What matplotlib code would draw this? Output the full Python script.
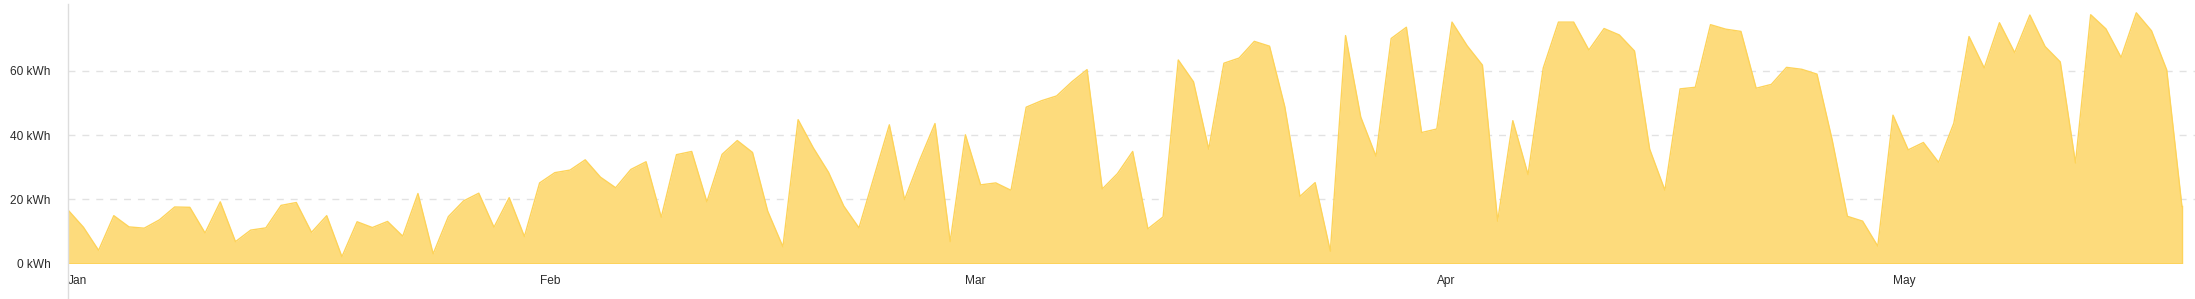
import matplotlib
matplotlib.use("Agg")
import matplotlib.pyplot as plt
import matplotlib.dates as mdates
from matplotlib.lines import Line2D
import pandas as pd
import numpy as np

start_date = "2023-01-01"
energy_kwh = [
    16.6, 11.3, 4.1, 14.9, 11.4, 11.0, 13.6, 17.6, 17.5, 9.5,
    19.2, 6.8, 10.4, 11.1, 18.1, 19.0, 9.7, 14.9, 2.1, 13.0,
    11.2, 13.1, 8.5, 21.8, 3.0, 14.6, 19.5, 21.9, 11.3, 20.5,
    8.4, 25.1, 28.3, 29.1, 32.3, 26.9, 23.6, 29.3, 31.7, 14.4,
    33.9, 34.9, 19.2, 34.0, 38.3, 34.6, 16.3, 5.2, 44.8, 36.0,
    28.4, 17.9, 11.1, 27.2, 43.2, 19.9, 32.3, 43.6, 6.8, 40.1,
    24.5, 25.1, 22.8, 48.7, 50.7, 52.2, 56.6, 60.4, 23.2, 28.0,
    34.9, 10.8, 14.5, 63.4, 56.6, 35.6, 62.4, 64.0, 69.2, 67.7,
    48.9, 20.9, 25.2, 3.8, 71.0, 45.6, 33.4, 70.1, 73.6, 40.8,
    41.9, 75.2, 67.8, 61.8, 13.2, 44.5, 27.7, 60.9, 75.2, 75.2,
    66.5, 73.2, 71.2, 66.2, 35.6, 22.8, 54.4, 54.9, 74.4, 73.0,
    72.3, 54.6, 55.8, 61.1, 60.5, 59.0, 38.5, 14.7, 13.2, 5.4,
    46.2, 35.4, 37.7, 31.5, 43.7, 70.7, 60.9, 75.0, 65.7, 77.4,
    67.6, 62.8, 31.3, 77.5, 73.1, 64.2, 78.1, 72.5, 60.3, 17.8,
]
y_ticks = [0, 20, 40, 60]
y_tick_labels = ["0 kWh", "20 kWh", "40 kWh", "60 kWh"]
month_labels = ["Jan", "Feb", "Mar", "Apr", "May"]

dates = pd.date_range(start_date, periods=len(energy_kwh), freq="D")
x = mdates.date2num(dates)

W, H = 2195, 299
fig = plt.figure(figsize=(W / 100, H / 100), dpi=100)
left_px, right_px, top_px, bottom_px = 68.2, 2195, 4, 263.5
ax = fig.add_axes([left_px / W, 1 - bottom_px / H,
                   (right_px - left_px) / W, (bottom_px - top_px) / H])

fill_color = "#FDDB7C"
line_color = "#FDD35A"
ax.fill_between(x, energy_kwh, 0, color=fill_color, linewidth=0, zorder=2)
ax.plot(x, energy_kwh, color=line_color, linewidth=1.0, zorder=3)
ax.plot([x[0], x[-1]], [0, 0], color=line_color, linewidth=2.0, zorder=3,
        solid_capstyle="butt")
ax.plot([x[-1], x[-1]], [0, energy_kwh[-1]], color=line_color, linewidth=1.0, zorder=3)

px_per_day = (1893 - 68.2) / 120.0
ax.set_xlim(x[0], x[0] + (right_px - left_px) / px_per_day)
ax.set_ylim(0, (bottom_px - top_px) / 3.21)

ax.set_yticks(y_ticks)
ax.set_yticklabels(y_tick_labels)
month_starts = mdates.date2num(pd.date_range(start_date, periods=len(month_labels), freq="MS"))
ax.set_xticks(month_starts)
ax.set_xticklabels(month_labels, ha="left")

for v in y_ticks[1:]:
    ax.axhline(v, color="#E2E2E2", linewidth=1.0, linestyle=(0, (5, 5)), zorder=1)

for s in ax.spines.values():
    s.set_visible(False)

ax.tick_params(axis="both", length=0, labelsize=8.6, colors="#2B2B2B",
               labelfontfamily="Liberation Sans")
ax.tick_params(axis="y", pad=12.6)
ax.tick_params(axis="x", pad=8.0)

fig.add_artist(Line2D([left_px / W, left_px / W], [0, 1 - top_px / H],
                      color="#DDDDDD", linewidth=1.0, transform=fig.transFigure))

fig.savefig("out.png", dpi=100, facecolor="white")
